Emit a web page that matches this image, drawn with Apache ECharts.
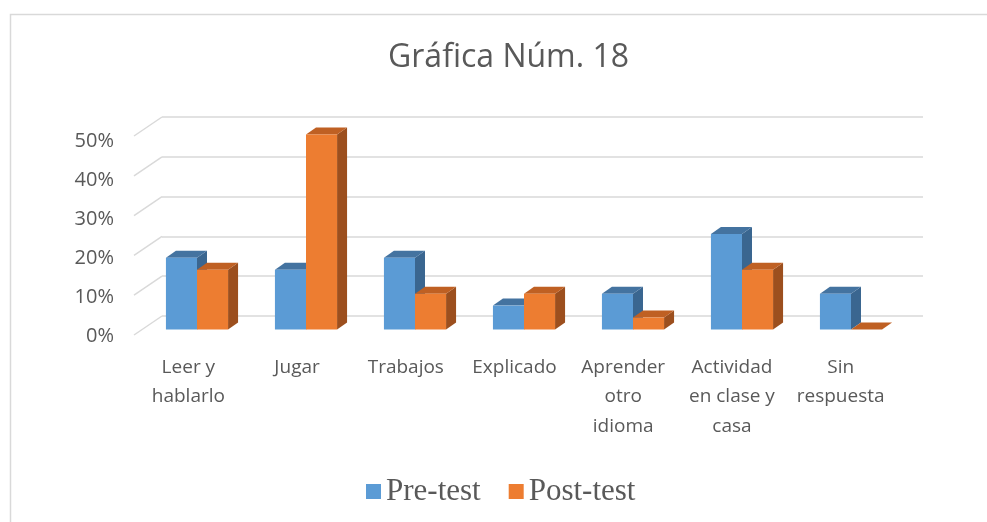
<!DOCTYPE html>
<html lang="es">
<head>
    <meta charset="UTF-8">
    <title>Gráfica Núm. 18</title>
    <script src="https://cdn.jsdelivr.net/npm/echarts@6/dist/echarts.min.js"></script>
    <style>
        html, body { margin: 0; padding: 0; background: #fff; }
        #chart { width: 987px; height: 522px; }
    </style>
</head>
<body>
    <div id="chart"></div>
    <script>
        // categorias (los saltos de linea imitan el ajuste de Excel)
        let categories = ['Leer y\nhablarlo', 'Jugar', 'Trabajos', 'Explicado', 'Aprender\notro\nidioma', 'Actividad\nen clase y\ncasa', 'Sin\nrespuesta'];
        // porcentajes
        let preTest = [18, 15, 18, 6, 9, 24, 9];
        let postTest = [15, 49, 9, 9, 3, 15, 0];
        // marcas del eje y
        let yTicks = [0, 10, 20, 30, 40, 50];

        // colores estilo Excel: frente, tapa, lado
        let faceColors = [
            { front: '#5B9BD5', top: '#4473A0', side: '#3A6690' },
            { front: '#ED7D31', top: '#BF6023', side: '#9C4F1E' }
        ];
        let wallDepth = { dx: 28, dy: 19 };   // pared al frente
        let barDepth = { dx: 10, dy: -7 };    // profundidad de cada barra
        let textColor = '#595959';
        let lineColor = '#D9D9D9';

        // barras en 3D: frente + tapa + lado
        function bar3d(seriesIdx) {
            return function (params, api) {
                let c = api.value(0);
                let v = api.value(1);
                let base = api.coord([c, 0]);
                let top = api.coord([c, v]);
                let bandW = api.size([1, 0])[0];
                let w = bandW * 0.285;
                let x0 = base[0] - w + seriesIdx * w;
                let col = faceColors[seriesIdx];
                let dx = barDepth.dx, dy = barDepth.dy;
                return {
                    type: 'group',
                    children: [
                        {
                            type: 'polygon',
                            shape: { points: [[x0 + w, top[1]], [x0 + w + dx, top[1] + dy], [x0 + w + dx, base[1] + dy], [x0 + w, base[1]]] },
                            style: { fill: col.side }
                        },
                        {
                            type: 'polygon',
                            shape: { points: [[x0, top[1]], [x0 + w, top[1]], [x0 + w + dx, top[1] + dy], [x0 + dx, top[1] + dy]] },
                            style: { fill: col.top }
                        },
                        {
                            type: 'rect',
                            shape: { x: x0, y: top[1], width: w, height: base[1] - top[1] },
                            style: { fill: col.front }
                        }
                    ]
                };
            };
        }

        let chart = echarts.init(document.getElementById('chart'));
        chart.setOption({
            backgroundColor: '#fff',
            animation: false,
            title: {
                text: 'Gráfica Núm. 18',
                left: 383,
                top: 37,
                textStyle: { fontFamily: 'Open Sans', fontSize: 32, fontWeight: 'normal', color: textColor }
            },
            legend: {
                data: ['Pre-test', 'Post-test'],
                top: 471,
                left: 361,
                icon: 'rect',
                itemWidth: 15,
                itemHeight: 15,
                itemGap: 28,
                textStyle: { fontFamily: 'Liberation Serif', fontSize: 31, color: textColor }
            },
            graphic: [{
                type: 'rect',
                left: 8,
                top: 12,
                shape: { width: 1200, height: 700 },
                style: { fill: 'none', stroke: lineColor, lineWidth: 1.5 },
                silent: true
            }],
            grid: [
                // pared del fondo
                { left: 162, top: 117, width: 761, height: 199 },
                // plano frontal (etiquetas)
                { left: 134, top: 141.5, width: 761, height: 195 },
                // plano de las barras
                { left: 142.5, top: 130.5, width: 763, height: 199 }
            ],
            xAxis: [
                { gridIndex: 0, type: 'category', data: categories, show: false },
                {
                    gridIndex: 1, type: 'category', data: categories,
                    axisLine: { show: false }, axisTick: { show: false },
                    axisLabel: {
                        interval: 0, margin: 16, color: textColor,
                        fontFamily: 'Open Sans', fontSize: 19, lineHeight: 29.5
                    }
                },
                { gridIndex: 2, type: 'category', data: categories, show: false }
            ],
            yAxis: [
                {
                    gridIndex: 0, type: 'value', min: 0, max: 50, interval: 10,
                    axisLine: { show: false }, axisTick: { show: false }, axisLabel: { show: false },
                    splitLine: { lineStyle: { color: lineColor, width: 1.5 } }
                },
                {
                    gridIndex: 1, type: 'value', min: 0, max: 50, interval: 10,
                    axisLine: { show: false }, axisTick: { show: false }, splitLine: { show: false },
                    axisLabel: { formatter: '{value}%', margin: 20, color: textColor, fontFamily: 'Open Sans', fontSize: 20 }
                },
                { gridIndex: 2, type: 'value', min: 0, max: 50, show: false }
            ],
            series: [
                {
                    // lineas diagonales de la pared
                    type: 'custom',
                    xAxisIndex: 0,
                    yAxisIndex: 0,
                    silent: true,
                    data: yTicks.map(t => [0, t]),
                    renderItem: function (params, api) {
                        let p = api.coord([0, api.value(1)]);
                        let x = params.coordSys.x;
                        return {
                            type: 'line',
                            shape: { x1: x, y1: p[1], x2: x - wallDepth.dx, y2: p[1] + wallDepth.dy },
                            style: { stroke: lineColor, lineWidth: 1.5 }
                        };
                    }
                },
                {
                    name: 'Pre-test',
                    type: 'custom',
                    xAxisIndex: 2,
                    yAxisIndex: 2,
                    itemStyle: { color: faceColors[0].front },
                    data: preTest.map((v, i) => [i, v]),
                    renderItem: bar3d(0)
                },
                {
                    name: 'Post-test',
                    type: 'custom',
                    xAxisIndex: 2,
                    yAxisIndex: 2,
                    itemStyle: { color: faceColors[1].front },
                    data: postTest.map((v, i) => [i, v]),
                    renderItem: bar3d(1)
                }
            ]
        });
    </script>
</body>
</html>
